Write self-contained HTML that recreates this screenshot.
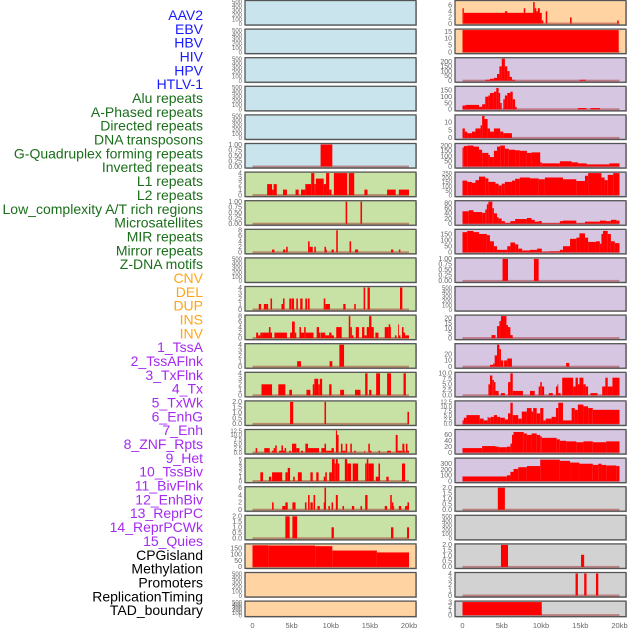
<!DOCTYPE html>
<html><head><meta charset="utf-8"><style>
html,body{margin:0;padding:0;background:#fff;}
svg{display:block;font-family:"Liberation Sans",sans-serif;}
</style></head><body>
<svg id="chart" width="630" height="630" viewBox="0 0 630 630" xmlns="http://www.w3.org/2000/svg"></svg>
<script>
const labelNames = ["AAV2","EBV","HBV","HIV","HPV","HTLV-1","Alu repeats","A-Phased repeats","Directed repeats","DNA transposons","G-Quadruplex forming repeats","Inverted repeats","L1 repeats","L2 repeats","Low_complexity A/T rich regions","Microsatellites","MIR repeats","Mirror repeats","Z-DNA motifs","CNV","DEL","DUP","INS","INV","1_TssA","2_TssAFlnk","3_TxFlnk","4_Tx","5_TxWk","6_EnhG","7_Enh","8_ZNF_Rpts","9_Het","10_TssBiv","11_BivFlnk","12_EnhBiv","13_ReprPC","14_ReprPCWk","15_Quies","CPGisland","Methylation","Promoters","ReplicationTiming","TAD_boundary"];
const labelColors = ["#1a1aff","#1a1aff","#1a1aff","#1a1aff","#1a1aff","#1a1aff","#1b6e1b","#1b6e1b","#1b6e1b","#1b6e1b","#1b6e1b","#1b6e1b","#1b6e1b","#1b6e1b","#1b6e1b","#1b6e1b","#1b6e1b","#1b6e1b","#1b6e1b","#ffa51a","#ffa51a","#ffa51a","#ffa51a","#ffa51a","#a52af0","#a52af0","#a52af0","#a52af0","#a52af0","#a52af0","#a52af0","#a52af0","#a52af0","#a52af0","#a52af0","#a52af0","#a52af0","#a52af0","#a52af0","#000","#000","#000","#000","#000"];
const xTicks = [0,5,10,15,20];
const xTickLabels = ["0","5kb","10kb","15kb","20kb"];

const htlv = [[8.7,10.2,1]];
const alu = [[1.87,2.5,2],[2.5,2.7,1],[2.7,3.1,2],[3.9,4.4,1],[5.5,5.9,1],[6.2,6.75,1],[6.75,7.5,2],[7.5,7.9,4],[7.9,8.1,2],[8.1,9.1,3],[9.1,9.4,2],[9.4,9.8,4],[9.8,10.1,1],[10.4,12.1,4],[12.3,13.0,4],[14.3,14.7,1],[17.2,18.3,1],[18.7,20,1]];
const aphased = [[11.9,12.1,1],[13.8,14.0,1]];
const directed = [[2.5,2.8,1],[3.9,4.2,1],[4.3,4.5,2],[7.1,7.3,4],[7.3,7.7,2],[7.9,8.1,2],[9.2,9.4,2],[9.4,9.5,1],[10.1,10.4,1],[10.7,10.9,8],[12.4,12.6,4],[13.1,13.5,1],[17.7,18.0,1],[18.7,18.9,1]];
const gquad = [[0.8,1.1,1],[1.45,1.75,1],[1.75,2.0,1],[2.3,2.5,2],[3.7,3.9,1],[3.9,4.1,2],[4.7,5.0,2],[5.05,5.3,2],[5.6,5.8,2],[6.1,6.4,2],[6.75,7.0,2],[7.1,7.3,2],[9.1,9.3,2],[9.3,9.9,1],[11.6,11.9,1],[13.0,13.2,1],[14.2,14.4,4],[14.7,15.0,4],[18.85,19.15,4]];
const inverted = [[0.47,0.72,2],[0.72,1.0,1],[1.0,1.3,2],[1.3,2.1,2],[2.1,2.3,4],[2.3,2.5,2],[2.8,4.4,2],[4.8,5.05,2],[5.05,5.4,6],[5.4,5.6,2],[6.0,6.2,4],[6.2,6.6,2],[6.6,6.8,4],[6.8,7.8,2],[8.2,8.5,4],[8.5,8.7,2],[8.75,9.3,2],[9.3,9.8,1],[9.8,10.1,2],[10.1,10.4,1],[10.7,11.4,4],[12.3,12.5,8],[12.5,12.7,4],[12.7,12.9,1],[13.2,13.6,4],[14.0,14.3,4],[14.3,14.6,1],[14.6,14.9,4],[14.9,15.2,8],[15.2,15.5,4],[15.7,16.1,2],[16.9,17.4,4],[17.4,17.6,5],[17.6,17.7,4],[18.2,18.4,1],[18.6,18.7,5],[18.7,18.9,1],[19.1,19.3,4],[19.3,19.5,2],[19.5,20,1]];
const l1 = [[5.7,6.2,1],[9.85,10.2,1],[11.1,11.7,4]];
const l2 = [[1.15,2.5,2],[3.3,4.2,2],[4.7,5.05,1],[6.9,7.4,1],[7.7,7.9,2],[7.9,8.4,3],[8.4,8.6,2],[8.6,8.9,3],[9.8,10.1,2],[11.2,11.7,1],[13.1,13.8,1],[14.4,14.7,4],[14.9,15.2,1],[15.8,16.3,4],[17.2,17.7,4],[19.3,19.6,4]];
const lowcomp = [[4.8,5.2,2],[9.2,9.4,2],[19.8,20,1.1]];
const microsat = [[0.4,0.6,2.5],[1.5,2.2,2.5],[2.5,2.7,1],[2.7,2.9,2.5],[2.9,3.1,4],[3.4,3.7,1],[3.7,3.9,4],[3.9,4.1,1],[4.1,4.3,2.5],[4.7,4.9,1],[5.05,5.6,5],[5.6,6.0,2.5],[6.2,6.45,1],[6.75,7.1,5],[7.1,8.5,2.5],[8.8,9.2,2.5],[9.2,9.4,5],[9.4,10.1,1],[10.1,10.4,2.5],[10.66,10.8,12.5],[10.8,11.0,10],[11.3,11.5,5],[11.5,11.9,1],[11.9,12.1,5],[12.5,12.7,5],[13.0,13.2,1],[14.3,14.4,1],[14.8,15.0,5],[15.0,15.2,1],[16.1,16.3,1],[17.2,17.7,1],[18.3,18.55,10],[18.55,19.1,1],[19.15,19.4,5],[19.4,19.5,1],[19.6,19.8,5],[19.8,20,1]];
const mir = [[1.0,1.35,2],[2.1,2.4,1],[2.5,3.8,2],[4.2,4.5,2],[4.5,4.8,3],[5.2,5.4,1],[5.8,6.3,2],[7.4,7.7,2],[8.15,8.45,2],[9.1,9.3,1],[9.3,9.5,2],[9.8,10.15,2],[10.15,10.5,5],[10.5,10.65,4],[10.65,10.9,5],[10.9,11.1,4],[11.8,12.1,5],[12.1,12.6,4],[12.8,13.5,4],[14.4,14.6,4],[14.6,14.8,5],[14.8,15.5,4],[15.75,16.1,1],[16.1,16.3,4],[17.1,17.4,1],[19.1,19.5,4]];
const mirror = [[2.5,2.7,2],[3.8,4.2,1],[4.2,4.5,2],[5.1,5.5,2],[6.7,6.9,2],[7.1,7.3,4],[7.4,7.7,2],[7.8,8.0,4],[8.3,8.6,1],[9.1,9.2,2],[9.2,9.4,6],[9.7,9.9,1],[10.1,10.3,2],[10.65,10.9,4],[11.5,11.7,1],[12.7,13.0,1],[13.8,14.0,1],[14.4,14.7,4],[16.9,17.2,1],[17.6,17.8,4],[17.8,18.0,2],[18.0,18.1,1],[18.7,19.0,1],[19.5,19.8,1],[19.8,20,2]];
const zdna = [[4.2,4.75,2],[5.1,5.7,2],[10.1,10.4,1],[17.7,18.0,1],[19.75,20,1]];
const cnv = [[0,2.0,172],[2.0,8.0,170],[8.0,10.2,165],[10.2,15.9,130],[15.9,20,115]];
const ins = [[0,0.17,5],[0.17,10.1,3.5],[5.4,5.7,4],[7.8,8.0,5],[9.0,9.2,7],[9.2,9.4,5],[9.4,9.6,4],[9.6,9.85,5],[10.1,10.3,1],[10.6,10.8,4],[13.7,13.9,2],[19.7,19.9,1]];
const inv = [[0,19.9,16]];
const tssa = [[2.9,3.5,10],[3.5,4.0,20],[4.0,4.4,30],[4.4,4.7,70],[4.7,5.0,150],[5.0,5.4,230],[5.4,5.7,150],[5.7,6.0,100],[6.0,6.3,40],[6.3,6.7,10],[14.9,15.7,10]];
const tssaflnk = [[0,0.4,30],[0.4,2.1,35],[2.1,2.5,20],[2.5,2.9,40],[2.9,3.3,100],[3.3,3.5,110],[3.5,4.0,130],[4.0,4.3,140],[4.3,4.6,170],[4.6,4.8,130],[4.8,5.0,50],[5.2,5.4,80],[5.4,5.7,110],[5.7,6.1,130],[6.1,6.4,140],[6.4,6.7,80],[6.7,6.9,20],[14.7,15.8,10],[16.3,17.5,10]];
const txflnk = [[0,0.3,6],[0.3,0.6,4],[0.6,1.2,3],[1.2,1.65,4],[1.65,2.3,6],[2.3,2.5,8],[2.5,2.8,14],[2.8,3.2,12],[3.2,3.5,6],[3.5,4.0,4],[4.0,4.8,6],[4.8,5.2,4],[5.2,6.3,3]];
const tx = [[0,0.17,180],[0.17,0.6,195],[0.6,1.4,200],[1.4,2.1,190],[2.1,2.5,160],[2.5,3.3,130],[3.3,3.5,110],[3.5,4.0,90],[4.0,4.4,150],[4.4,4.8,190],[4.8,5.4,200],[5.4,5.9,170],[5.9,6.7,160],[6.7,7.3,155],[7.3,8.2,150],[8.2,8.8,130],[8.8,9.9,135],[9.9,10.1,40],[10.1,12.4,30],[12.4,13.9,50],[13.9,14.7,40],[14.7,15.8,30],[15.8,18.7,20],[18.7,20,30]];
const txwk = [[0,0.6,165],[0.6,1.2,150],[1.2,1.65,140],[1.65,2.1,170],[2.1,2.9,210],[2.9,3.3,190],[3.3,4.2,150],[4.2,4.6,130],[4.6,5.0,110],[5.0,5.4,130],[5.4,6.3,150],[6.3,6.7,165],[6.7,7.3,185],[7.3,8.6,200],[8.6,9.7,190],[9.7,10.5,180],[10.5,12.8,200],[12.8,14.5,180],[14.5,15.6,160],[15.6,16.0,220],[16.0,17.7,250],[17.7,18.1,200],[18.1,18.5,170],[18.5,19.2,230],[19.2,20,250]];
const enhg = [[0,0.8,48],[0.8,1.4,52],[1.4,2.5,45],[2.5,2.9,42],[2.9,3.1,55],[3.1,3.3,75],[3.3,3.8,85],[3.8,4.0,60],[4.0,4.4,40],[4.4,4.6,25],[4.6,5.0,20],[5.0,5.4,10],[5.4,6.1,3],[6.1,6.7,10],[6.7,8.2,18],[8.2,8.8,22],[8.8,9.2,15],[9.2,9.7,8],[9.7,10.1,10],[10.1,12.4,2],[12.4,12.8,10],[12.8,14.5,12],[14.5,15.6,2],[15.6,17.5,8],[17.5,18.3,12],[18.3,18.9,10],[18.9,19.6,15],[19.6,20,12]];
const enh = [[0,0.6,165],[0.6,1.4,175],[1.4,2.1,165],[2.1,3.1,150],[3.1,3.5,140],[3.5,4.0,90],[4.0,4.4,50],[4.4,5.7,20],[5.7,6.1,50],[6.1,6.7,80],[6.7,7.1,65],[7.1,7.6,30],[7.6,8.6,15],[8.6,9.5,20],[9.5,10.1,30],[10.1,11.1,5],[11.1,12.4,8],[12.4,12.8,20],[12.8,13.7,50],[13.7,14.5,110],[14.5,14.9,120],[14.9,15.6,155],[15.6,16.0,120],[16.0,17.0,85],[17.0,17.5,90],[17.5,17.7,70],[17.7,17.9,150],[17.9,18.5,175],[18.5,18.9,150],[18.9,19.4,90],[19.4,20,75]];
const znf = [[5.1,5.8,1],[9.1,9.7,1]];
const tssbiv = [[3.7,4.2,3],[4.4,4.7,12],[4.7,4.9,17],[4.9,5.6,22],[5.6,5.8,13],[5.8,6.1,11],[6.1,6.4,3]];
const bivflnk = [[3.5,3.9,3],[3.9,4.1,5],[4.1,4.4,18],[4.4,4.7,35],[4.7,4.9,28],[4.9,5.2,10],[5.3,5.7,10],[5.7,6.3,13],[13.2,13.6,6]];
const enhbiv = [[3.3,3.5,5],[3.5,3.8,9],[3.8,4.0,7],[4.0,4.2,6],[4.2,4.6,2],[4.9,5.4,1],[5.8,6.1,6],[6.1,6.4,10],[6.4,7.7,2],[8.6,9.2,2],[9.7,9.9,4],[9.9,10.1,6],[10.1,10.4,4],[11.0,11.5,1],[11.9,12.1,4],[12.1,12.2,5],[12.2,12.5,1],[12.7,14.1,8],[14.1,14.4,4],[14.4,14.7,8],[14.7,14.9,5],[14.9,15.4,8],[15.4,15.7,5],[15.7,16.0,4],[16.3,17.2,1],[17.8,18.2,4],[18.2,18.5,8],[18.5,19.1,4],[19.1,20,8]];
const reprpc = [[0,0.17,2],[0.17,0.5,3.5],[0.5,2.2,5],[2.2,2.7,3],[2.7,3.2,2],[3.2,3.3,4],[3.3,3.6,3.5],[3.6,4.0,4],[4.0,4.4,5],[4.4,4.8,4],[4.8,5.4,3.5],[5.4,5.8,2.5],[5.8,6.1,6],[6.1,6.4,12],[6.4,7.1,5],[7.1,7.55,3],[7.55,8.2,7],[8.2,8.8,9],[8.8,9.0,7],[9.0,9.45,9],[9.45,9.9,6],[9.9,10.3,9],[10.3,10.6,2],[10.6,11.35,3],[11.35,11.9,4],[11.9,12.2,9],[12.2,12.8,12],[12.8,13.9,2],[13.9,14.3,9],[14.3,14.7,8],[14.7,15.4,11],[15.4,16.0,10],[16.0,16.6,9],[16.6,20,8]];
const reprpcwk = [[0,2.5,15],[2.5,4.2,22],[4.2,4.6,20],[4.6,5.65,18],[5.65,6.1,20],[6.1,6.3,30],[6.3,6.5,60],[6.5,7.8,70],[7.8,8.2,65],[8.2,8.8,60],[8.8,9.45,65],[9.45,9.9,60],[9.9,10.1,55],[10.1,12.0,50],[12.0,12.4,45],[12.4,13.2,40],[13.2,14.5,38],[14.5,15.4,35],[15.4,16.6,38],[16.6,18.3,35],[18.3,20,38]];
const quies = [[0,5.65,80],[5.65,6.1,100],[6.1,6.5,160],[6.5,7.1,210],[7.1,8.2,240],[8.2,9.9,260],[9.9,12.4,370],[12.4,13.7,350],[13.7,14.9,320],[14.9,16.6,300],[16.6,17.3,280],[17.3,17.7,300],[17.7,18.3,280],[18.3,19.6,270],[19.6,20,260]];
const cpg = [[4.5,5.4,2]];
const promoters = [[4.9,5.8,2],[15.1,15.5,1.1]];
const reptiming = [[14.4,14.7,4],[15.5,15.8,4],[17.0,17.3,4]];
const tad = [[0,10.1,3]];

const T500 = [0,100,200,300,400,500];
const C = {blue:"#c9e4ec",green:"#c8e2a6",orange:"#ffd3a2",purple:"#d7c6e1",gray:"#d2d2d2"};

const leftPanels = [
 {id:"AAV2",bg:C.blue,ymax:500,ticks:T500,dec:0,data:null},
 {id:"EBV",bg:C.blue,ymax:500,ticks:T500,dec:0,data:null},
 {id:"HBV",bg:C.blue,ymax:500,ticks:T500,dec:0,data:null},
 {id:"HIV",bg:C.blue,ymax:500,ticks:T500,dec:0,data:null},
 {id:"HPV",bg:C.blue,ymax:500,ticks:T500,dec:0,data:null},
 {id:"HTLV-1",bg:C.blue,ymax:1,ticks:[0,0.25,0.5,0.75,1],dec:2,data:htlv},
 {id:"Alu",bg:C.green,ymax:4,ticks:[0,1,2,3,4],dec:0,data:alu},
 {id:"A-Phased",bg:C.green,ymax:1,ticks:[0,0.25,0.5,0.75,1],dec:2,data:aphased},
 {id:"Directed",bg:C.green,ymax:8,ticks:[0,2,4,6,8],dec:0,data:directed},
 {id:"DNA-transposons",bg:C.green,ymax:500,ticks:T500,dec:0,data:null},
 {id:"G-Quadruplex",bg:C.green,ymax:4,ticks:[0,1,2,3,4],dec:0,data:gquad},
 {id:"Inverted",bg:C.green,ymax:8,ticks:[0,2,4,6,8],dec:0,data:inverted},
 {id:"L1",bg:C.green,ymax:4,ticks:[0,1,2,3,4],dec:0,data:l1},
 {id:"L2",bg:C.green,ymax:4,ticks:[0,1,2,3,4],dec:0,data:l2},
 {id:"Low-complexity",bg:C.green,ymax:2,ticks:[0,0.5,1,1.5,2],dec:1,data:lowcomp},
 {id:"Microsatellites",bg:C.green,ymax:12.5,ticks:[0,2.5,5,7.5,10,12.5],dec:1,data:microsat},
 {id:"MIR",bg:C.green,ymax:5,ticks:[0,1,2,3,4,5],dec:0,data:mir},
 {id:"Mirror",bg:C.green,ymax:6,ticks:[0,2,4,6],dec:0,data:mirror},
 {id:"Z-DNA",bg:C.green,ymax:2,ticks:[0,0.5,1,1.5,2],dec:1,data:zdna},
 {id:"CNV",bg:C.orange,ymax:175,ticks:[0,50,100,150],dec:0,data:cnv},
 {id:"DEL",bg:C.orange,ymax:500,ticks:T500,dec:0,data:null},
 {id:"DUP",bg:C.orange,ymax:500,ticks:T500,dec:0,data:null}
];
const rightPanels = [
 {id:"INS",bg:C.orange,ymax:7.2,ticks:[0,2,4,6],dec:0,data:ins},
 {id:"INV",bg:C.orange,ymax:16,ticks:[0,5,10,15],dec:0,data:inv},
 {id:"1_TssA",bg:C.purple,ymax:230,ticks:[0,50,100,150,200],dec:0,data:tssa},
 {id:"2_TssAFlnk",bg:C.purple,ymax:175,ticks:[0,50,100,150],dec:0,data:tssaflnk},
 {id:"3_TxFlnk",bg:C.purple,ymax:14,ticks:[0,5,10],dec:0,data:txflnk},
 {id:"4_Tx",bg:C.purple,ymax:210,ticks:[0,50,100,150,200],dec:0,data:tx},
 {id:"5_TxWk",bg:C.purple,ymax:250,ticks:[0,50,100,150,200,250],dec:0,data:txwk},
 {id:"6_EnhG",bg:C.purple,ymax:85,ticks:[0,20,40,60,80],dec:0,data:enhg},
 {id:"7_Enh",bg:C.purple,ymax:180,ticks:[0,50,100,150],dec:0,data:enh},
 {id:"8_ZNF_Rpts",bg:C.purple,ymax:1,ticks:[0,0.25,0.5,0.75,1],dec:2,data:znf},
 {id:"9_Het",bg:C.purple,ymax:500,ticks:T500,dec:0,data:null},
 {id:"10_TssBiv",bg:C.purple,ymax:22,ticks:[0,5,10,15,20],dec:0,data:tssbiv},
 {id:"11_BivFlnk",bg:C.purple,ymax:35,ticks:[0,10,20],dec:0,data:bivflnk},
 {id:"12_EnhBiv",bg:C.purple,ymax:10,ticks:[0,2.5,5,7.5,10],dec:1,data:enhbiv},
 {id:"13_ReprPC",bg:C.purple,ymax:12.5,ticks:[0,2.5,5,7.5,10,12.5],dec:1,data:reprpc},
 {id:"14_ReprPCWk",bg:C.purple,ymax:75,ticks:[0,20,40,60],dec:0,data:reprpcwk},
 {id:"15_Quies",bg:C.purple,ymax:380,ticks:[0,100,200,300],dec:0,data:quies},
 {id:"CPGisland",bg:C.gray,ymax:2,ticks:[0,0.5,1,1.5,2],dec:1,data:cpg},
 {id:"Methylation",bg:C.gray,ymax:500,ticks:T500,dec:0,data:null},
 {id:"Promoters",bg:C.gray,ymax:2,ticks:[0,0.5,1,1.5,2],dec:1,data:promoters},
 {id:"ReplicationTiming",bg:C.gray,ymax:4,ticks:[0,1,2,3,4],dec:0,data:reptiming},
 {id:"TAD_boundary",bg:C.gray,ymax:3,ticks:[0,1,2,3],dec:0,data:tad}
];

const NS = "http://www.w3.org/2000/svg";
const svg = document.getElementById("chart");
function mk(tag, attrs, parent){
  const e = document.createElementNS(NS, tag);
  for (const k in attrs) e.setAttribute(k, attrs[k]);
  (parent||svg).appendChild(e);
  return e;
}

labelNames.forEach((name,i)=>{
  const t = mk("text",{x:203,y:(15+i*13.84+5).toFixed(1),"text-anchor":"end","font-size":"14",fill:labelColors[i]});
  
  
  t.textContent = name;
});

function drawColumn(panels, px0, px1, dx0, dx1, side){
  const xs = kb => dx0 + (dx1-dx0)*kb/20;
  panels.forEach((p,i)=>{
    const top = 0.5 + i*28.6;
    const h = i===21 ? 15.5 : 24.5;
    const bot = top + h;
    const g = mk("g",{});
    
    
    mk("rect",{x:px0+1,y:top+1,width:px1-px0,height:h,fill:"#bbb"},g);
    mk("rect",{x:px0,y:top,width:px1-px0,height:h,fill:p.bg},g);
    const ys = v => bot - 1.5 - (h-2.5)*v/p.ymax;
    if (p.data){
      mk("rect",{x:xs(0),y:ys(0)-1,width:xs(20)-xs(0),height:2,fill:"#a02020","fill-opacity":"0.45"},g);
      p.data.forEach(d=>{
        const r = mk("rect",{x:xs(d[0]).toFixed(2),y:ys(d[2]).toFixed(2),width:Math.max(0.8,xs(d[1])-xs(d[0])).toFixed(2),height:(ys(0)-ys(d[2])).toFixed(2),fill:"#ff0000"},g);
        
        
      });
    }
    mk("rect",{x:px0,y:top,width:px1-px0,height:h,fill:"none",stroke:"#555","stroke-width":"1.3"},g);
    const fs = p.ticks.length>5 ? 6 : 7;
    p.ticks.forEach(tv=>{
      const t = mk("text",{x:px0-3,y:(ys(tv)+2.3).toFixed(1),"text-anchor":"end","font-size":fs,fill:"#666"},g);
      
      
      t.textContent = tv.toFixed(p.dec);
    });
  });
  xTicks.forEach((k,j)=>{
    const t = mk("text",{x:xs(k).toFixed(1),y:628,"text-anchor":"middle","font-size":"7.5",fill:"#666"});
    
    
    t.textContent = xTickLabels[j];
  });
}
drawColumn(leftPanels, 245, 416, 252.5, 409, "left");
drawColumn(rightPanels, 455, 626, 462.5, 619.5, "right");
</script>
</body></html>
